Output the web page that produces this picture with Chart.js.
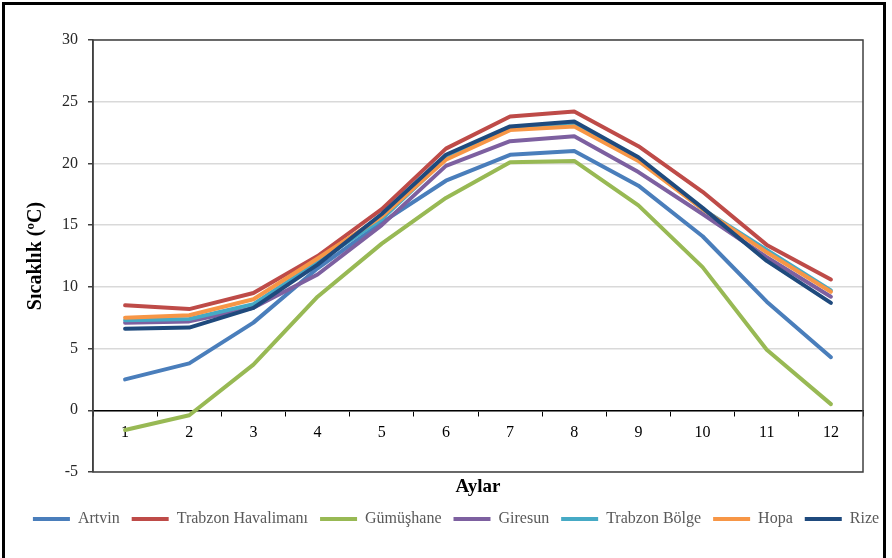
<!DOCTYPE html>
<html>
<head>
<meta charset="utf-8">
<script src="https://cdn.jsdelivr.net/npm/chart.js@4.4.1/dist/chart.umd.min.js"></script>
<style>
  html, body { margin: 0; padding: 0; background: #fff; }
  body { width: 892px; height: 558px; overflow: hidden; position: relative; }
  #frame { position: absolute; left: 2px; top: 2px; width: 878px; height: 600px; border: 3px solid #000; }
  #chart { position: absolute; left: 0; top: 0; }
</style>
</head>
<body>
<div id="frame"></div>
<canvas id="chart" width="892" height="558"></canvas>
<script>
const months = ['1', '2', '3', '4', '5', '6', '7', '8', '9', '10', '11', '12'];

const artvin       = [2.5, 3.8, 7.1, 11.5, 15.2, 18.6, 20.7, 21.0, 18.2, 14.1, 8.8, 4.3];
const trabzonHav   = [8.5, 8.2, 9.5, 12.5, 16.3, 21.2, 23.8, 24.2, 21.4, 17.7, 13.4, 10.6];
const gumushane    = [-1.6, -0.4, 3.7, 9.2, 13.5, 17.2, 20.1, 20.2, 16.6, 11.6, 4.9, 0.5];
const giresun      = [7.1, 7.2, 8.3, 11.0, 15.0, 19.8, 21.8, 22.2, 19.3, 15.9, 12.4, 9.2];
const trabzonBolge = [7.3, 7.4, 8.6, 12.0, 15.5, 20.4, 22.8, 23.2, 20.4, 16.3, 13.0, 9.7];
const hopa         = [7.5, 7.7, 9.0, 12.3, 15.7, 20.3, 22.7, 23.0, 20.2, 16.3, 12.8, 9.6];
const rize         = [6.6, 6.7, 8.3, 11.8, 15.9, 20.7, 23.0, 23.4, 20.5, 16.4, 12.1, 8.7];

const seriesNames  = ['Artvin', 'Trabzon Havalimanı', 'Gümüşhane', 'Giresun', 'Trabzon Bölge', 'Hopa', 'Rize'];
const seriesValues = [artvin, trabzonHav, gumushane, giresun, trabzonBolge, hopa, rize];
const seriesColors = ['#4a7ebb', '#be4b48', '#98b954', '#7d60a0', '#46aac5', '#f79646', '#1f4a7d'];

const serif = 'Liberation Serif, Times New Roman, serif';

// frame round the plot area
const plotBox = {
    id: 'plotBox',
    beforeDatasetsDraw(chart) {
        const { ctx, chartArea } = chart;
        ctx.save();
        ctx.strokeStyle = '#404040';
        ctx.lineWidth = 1.5;
        ctx.strokeRect(chartArea.left, chartArea.top, chartArea.right - chartArea.left, chartArea.bottom - chartArea.top);
        ctx.restore();
    }
};

const datasets = seriesNames.map(function(name, i) {
    return {
        label: name,
        data: seriesValues[i],
        borderColor: seriesColors[i],
        backgroundColor: seriesColors[i],
        borderWidth: 4,
        pointRadius: 0,
        tension: 0,
        borderCapStyle: 'round',
        borderJoinStyle: 'round',
        order: seriesNames.length - i // later series drawn on top, like the original
    };
});

const ctx = document.getElementById('chart').getContext('2d');
new Chart(ctx, {
    type: 'line',
    data: { labels: months, datasets: datasets },
    plugins: [plotBox],
    options: {
        responsive: false,
        animation: false,
        // no right padding so the full-width legend sits right of centre like the original;
        // an empty right axis keeps the plot's right edge in place
        layout: { padding: { left: 20, right: 0, top: 40, bottom: 21 } },
        plugins: {
            tooltip: { enabled: false },
            legend: {
                position: 'bottom',
                labels: {
                    usePointStyle: true,
                    pointStyle: 'line',
                    pointStyleWidth: 37,
                    color: '#595959',
                    padding: 12,
                    font: { family: serif, size: 16 },
                    sort: function(a, b) { return a.datasetIndex - b.datasetIndex; }
                }
            }
        },
        scales: {
            x: {
                type: 'category',
                position: { y: 0 },
                offset: true,
                border: { display: true, color: '#000', width: 1.5 },
                grid: { display: true, drawOnChartArea: false, drawTicks: true, tickLength: 5, tickColor: '#000', offset: true },
                ticks: { color: '#000', padding: 8, font: { family: serif, size: 16 } }
            },
            // bottom axis only carries the "Aylar" title under the plot
            xTitle: {
                type: 'category',
                position: 'bottom',
                border: { display: false },
                grid: { display: false, drawTicks: false },
                ticks: { display: false },
                title: {
                    display: true,
                    text: 'Aylar',
                    color: '#000',
                    font: { family: serif, size: 19, weight: 'bold', lineHeight: 1 },
                    padding: { top: 6, bottom: 2 }
                }
            },
            y: {
                min: -5,
                max: 30,
                afterFit: function(scale) { scale.width = 73; },
                border: { display: true, color: '#404040', width: 1.5 },
                grid: { color: '#d9d9d9', lineWidth: 1.5, tickLength: 5, tickColor: '#404040' },
                ticks: { stepSize: 5, color: '#262626', padding: 10, font: { family: serif, size: 16 } },
                title: {
                    display: true,
                    text: 'Sıcaklık (ºC)',
                    color: '#000',
                    font: { family: serif, size: 20, weight: 'bold' },
                    padding: { top: 4, bottom: 0 }
                }
            },
            yRight: {
                position: 'right',
                min: -5,
                max: 30,
                afterFit: function(scale) { scale.width = 29; },
                border: { display: false },
                grid: { display: false },
                ticks: { display: false }
            }
        }
    }
});
</script>
</body>
</html>
